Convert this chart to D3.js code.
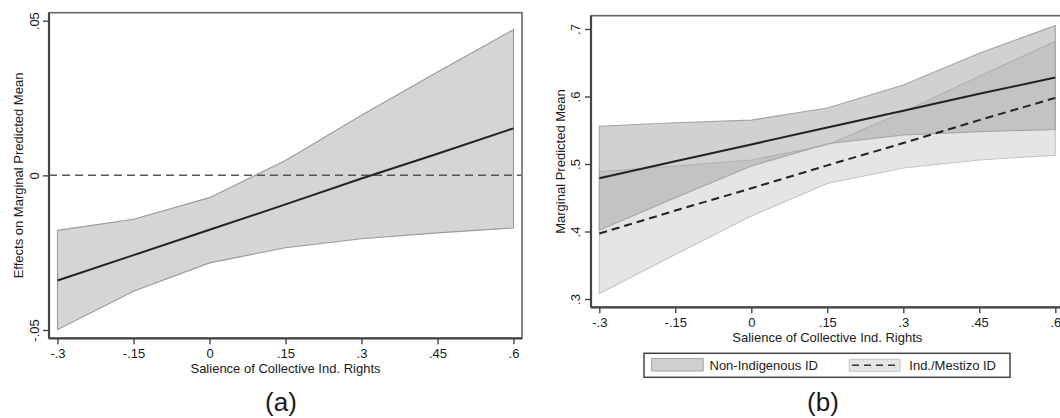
<!DOCTYPE html>
<html>
<head>
<meta charset="utf-8">
<script src="https://cdn.jsdelivr.net/npm/d3@7"></script>
<style>
  body { margin: 0; background: #fff; }
  svg text { font-family: "Liberation Sans", Arial, sans-serif; fill: #1a1a1a; }
</style>
</head>
<body>
<svg id="chart"></svg>
<script>
// x positions shared by both panels
const xVals = [-0.3, -0.15, 0, 0.15, 0.3, 0.45, 0.6];
const xTickLabels = ["-.3", "-.15", "0", ".15", ".3", ".45", ".6"];

// panel (a): effect on marginal predicted mean with CI
const effMean = [-0.034, -0.0258, -0.0176, -0.0094, -0.001, 0.007, 0.0152];
const effLo = [-0.0499, -0.0375, -0.0283, -0.0234, -0.0205, -0.0186, -0.017];
const effHi = [-0.0178, -0.0142, -0.0072, 0.0048, 0.0194, 0.0334, 0.0471];
const aYTicks = [-0.05, 0, 0.05];
const aYTickLabels = ["-.05", "0", ".05"];

// panel (b): predicted means by identity group
const nonIndMean = [0.479, 0.504, 0.529, 0.554, 0.579, 0.604, 0.628];
const nonIndLo = [0.402, 0.45, 0.497, 0.53, 0.543, 0.548, 0.551];
const nonIndHi = [0.556, 0.561, 0.565, 0.583, 0.617, 0.664, 0.705];
const indMean = [0.397, 0.431, 0.464, 0.498, 0.531, 0.565, 0.598];
const indLo = [0.308, 0.366, 0.423, 0.471, 0.494, 0.506, 0.513];
const indHi = [0.489, 0.497, 0.506, 0.528, 0.577, 0.63, 0.682];
const bYTicks = [0.3, 0.4, 0.5, 0.6, 0.7];
const bYTickLabels = [".3", ".4", ".5", ".6", ".7"];

const legendLabels = ["Non-Indigenous ID", "Ind./Mestizo ID"];

const svg = d3.select('#chart')
  .attr('width', 1060)
  .attr('height', 418);

svg.append('rect').attr('width', 1060).attr('height', 418).attr('fill', '#fff');

function rows(lo, mid, hi) {
  return xVals.map((x, i) => ({x: x, lo: lo[i], mid: mid[i], hi: hi[i]}));
}

function drawPanel(p) {
  let g = svg.append('g');
  let x = d3.scaleLinear().domain([-0.3, 0.6]).range([p.x0, p.x1]);
  let y = d3.scaleLinear().domain(p.yDomain).range(p.yRange);

  // plot frame
  g.append('rect')
    .attr('x', p.left).attr('y', p.top)
    .attr('width', p.right - p.left).attr('height', p.bottom - p.top)
    .attr('fill', 'none').attr('stroke', '#666').attr('stroke-width', 1.6);

  let xAxis = g.append('g')
    .attr('transform', `translate(0,${p.bottom})`)
    .call(d3.axisBottom(x).tickValues(xVals).tickFormat((d, i) => xTickLabels[i]).tickSize(6));
  xAxis.select('.domain').remove();
  xAxis.selectAll('line').attr('stroke', '#444').attr('stroke-width', 1.4);
  xAxis.selectAll('text').attr('y', 19.5).attr('dy', 0)
    .style('font-size', '13px').attr('fill', '#1a1a1a');

  let yAxis = g.append('g')
    .attr('transform', `translate(${p.left},0)`)
    .call(d3.axisLeft(y).tickValues(p.yTicks).tickFormat((d, i) => p.yTickLabels[i]).tickSize(6));
  yAxis.select('.domain').remove();
  yAxis.selectAll('line').attr('stroke', '#444').attr('stroke-width', 1.4);
  yAxis.selectAll('text')
    .attr('x', null).attr('dy', 0)
    .attr('transform', `translate(${p.yLabelOff},0) rotate(-90)`)
    .attr('text-anchor', 'middle')
    .style('font-size', '13px').attr('fill', '#1a1a1a');

  // axis lines
  g.append('line').attr('x1', p.left).attr('x2', p.right).attr('y1', p.bottom).attr('y2', p.bottom)
    .attr('stroke', '#444').attr('stroke-width', 2.2);
  g.append('line').attr('x1', p.left).attr('x2', p.left).attr('y1', p.top).attr('y2', p.bottom)
    .attr('stroke', '#444').attr('stroke-width', 2.2);

  g.append('text')
    .attr('x', (p.x0 + p.x1) / 2).attr('y', p.bottom + 35)
    .attr('text-anchor', 'middle').style('font-size', '13px')
    .text('Salience of Collective Ind. Rights');

  g.append('text')
    .attr('transform', `translate(${p.yTitleX},${(p.top + p.bottom) / 2}) rotate(-90)`)
    .attr('text-anchor', 'middle').style('font-size', '13px')
    .text(p.yTitle);

  g.append('text')
    .attr('x', p.capX).attr('y', 411)
    .attr('text-anchor', 'middle').style('font-size', '26px').attr('fill', '#333')
    .text(p.caption);

  return {g: g, x: x, y: y};
}

function band(pan, data, fill, stroke) {
  let area = d3.area().x(d => pan.x(d.x)).y0(d => pan.y(d.lo)).y1(d => pan.y(d.hi));
  pan.g.append('path').datum(data)
    .attr('d', area).attr('fill', fill)
    .attr('stroke', stroke).attr('stroke-width', 1.1);
}

function meanLine(pan, data, dash) {
  let line = d3.line().x(d => pan.x(d.x)).y(d => pan.y(d.mid));
  pan.g.append('path').datum(data)
    .attr('d', line).attr('fill', 'none')
    .attr('stroke', '#222').attr('stroke-width', 2)
    .attr('stroke-dasharray', dash);
}

// ---- panel (a)
let pa = drawPanel({
  left: 49, right: 522, top: 12.7, bottom: 338.3,
  x0: 57.5, x1: 513.5,
  yDomain: [-0.05, 0.05], yRange: [330, 20.7],
  yTicks: aYTicks, yTickLabels: aYTickLabels, yLabelOff: -10,
  yTitle: 'Effects on Marginal Predicted Mean', yTitleX: 22.5,
  capX: 281, caption: '(a)'
});
let aData = rows(effLo, effMean, effHi);
band(pa, aData, '#d4d5d7', '#9a9a9a');
pa.g.append('line')
  .attr('x1', 49).attr('x2', 521).attr('y1', pa.y(0)).attr('y2', pa.y(0))
  .attr('stroke', '#555').attr('stroke-width', 1.5).attr('stroke-dasharray', '8,5');
meanLine(pa, aData, null);

// ---- panel (b)
let pb = drawPanel({
  left: 591, right: 1068, top: 15.7, bottom: 307.3,
  x0: 599.3, x1: 1055.3,
  yDomain: [0.3, 0.7], yRange: [299, 29],
  yTicks: bYTicks, yTickLabels: bYTickLabels, yLabelOff: -11,
  yTitle: 'Marginal Predicted Mean', yTitleX: 565,
  capX: 823, caption: '(b)'
});
let indData = rows(indLo, indMean, indHi);
let nonData = rows(nonIndLo, nonIndMean, nonIndHi);
band(pb, indData, '#e4e5e6', '#c4c5c7');
band(pb, nonData, 'rgba(150,152,156,0.45)', '#a3a4a6');
meanLine(pb, nonData, null);
meanLine(pb, indData, '8,5');

// legend
let lg = svg.append('g');
lg.append('rect').attr('x', 644).attr('y', 353.3).attr('width', 366).attr('height', 24)
  .attr('fill', '#fff').attr('stroke', '#444').attr('stroke-width', 1.5);
lg.append('rect').attr('x', 651.7).attr('y', 358.5).attr('width', 51.5).attr('height', 12.5)
  .attr('fill', '#cfd0d2').attr('stroke', '#a3a4a6').attr('stroke-width', 1);
lg.append('text').attr('x', 709.5).attr('y', 370).style('font-size', '13px').text(legendLabels[0]);
lg.append('rect').attr('x', 849.3).attr('y', 359.3).attr('width', 50.7).attr('height', 12)
  .attr('fill', '#e4e5e6').attr('stroke', '#c4c5c7').attr('stroke-width', 1);
lg.append('line').attr('x1', 852).attr('x2', 898).attr('y1', 365.3).attr('y2', 365.3)
  .attr('stroke', '#333').attr('stroke-width', 1.6).attr('stroke-dasharray', '7,5');
lg.append('text').attr('x', 909.3).attr('y', 370).style('font-size', '13px').text(legendLabels[1]);
</script>
</body>
</html>
